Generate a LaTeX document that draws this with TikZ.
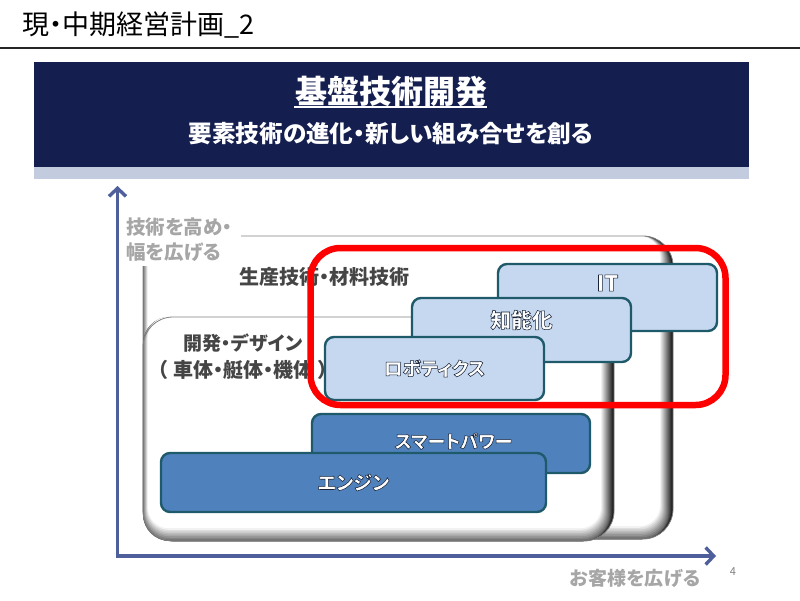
\documentclass[tikz,border=0pt]{standalone}
\usepackage{fontspec}
\usepackage{tikz}
\usetikzlibrary{arrows.meta, positioning, calc}
\setmainfont{Noto Sans CJK JP}[RawFeature=+palt]
\newfontfamily\heavyfont{Noto Sans CJK JP Black}[RawFeature=+palt]
\definecolor{navy}{HTML}{141F50}
\definecolor{strip}{HTML}{C3CBDF}
\definecolor{axisblue}{HTML}{4F5F9B}
\definecolor{lightfill}{HTML}{C6D8F0}
\definecolor{darkfill}{HTML}{4F81BD}
\definecolor{boxline}{HTML}{1F5A6B}
\definecolor{labelgray}{HTML}{A6A6A6}
\definecolor{headgray}{HTML}{454545}

% white letters with a dark rim
\newcommand{\rimtext}[1]{\special{pdf:code 2 Tr 0.55 w 0.1 0.14 0.22 RG}#1\special{pdf:code 0 Tr}}
% raised panel: x1, y1, x2, y2
\newcommand{\bevelpanel}[4]{
        \foreach \i in {0,...,14}{
                \pgfmathsetmacro{\shade}{min(100,\i*7.2+8)}
                \pgfmathsetmacro{\sunk}{max(0,\i-5)}
                \fill[white!\shade!black, rounded corners=30pt-\i*0.7pt]
                        (#1+\sunk*0.6,#2) rectangle (#3-\i*1.0,#4-\sunk*1.6);
        }
        \draw[gray, line width=0.8pt, rounded corners=30pt] (#1,#2) rectangle (#3,#4);
}

\begin{document}
\begin{tikzpicture}[x=1pt,y=-1pt,
                light box/.style={rectangle,draw=boxline,fill=lightfill,line width=2.4pt,rounded corners=9pt,inner sep=0pt,text=white},
                dark box/.style={light box,fill=darkfill},
                axis line/.style={-{Straight Barb[length=8pt,width=17pt]},draw=axisblue,line width=3.4pt},
                axis label/.style={font=\fontsize{19}{25}\selectfont\bfseries,text=labelgray,inner sep=0pt},
                layer label/.style={font=\fontsize{20}{27}\selectfont\bfseries,text=headgray,inner sep=0pt,align=center}]
        \useasboundingbox (0,0) rectangle (800,600);

        \node[anchor=west,inner sep=0pt,font=\fontsize{27}{30}\selectfont] (title) at (22,25) {現・中期経営計画\_2};
        \coordinate (ruleleft) at (0,48);
        \coordinate (ruleright) at (800,48);
        \draw[line width=1.4pt,black!85] (ruleleft) -- (ruleright);

        \fill[strip] (34,167) rectangle (749,179);
        \fill[navy] (34,62) rectangle (749,167);
        \node[inner sep=0pt,text=white,font=\fontsize{32}{36}\selectfont\bfseries] (heading) at (391,91) {基盤技術開発};
        \coordinate (underleft) at (294,107);
        \coordinate (underright) at (487,107);
        \draw[white,line width=2pt] (underleft) -- (underright);
        \node[inner sep=0pt,text=white,font=\fontsize{23.6}{26}\selectfont\bfseries] (subheading) at (391,134) {要素技術の進化・新しい組み合せを創る};

        \bevelpanel{143}{236}{673}{539}
        \node[fill=white,anchor=north west,inner sep=0pt,text width=121pt,minimum height=54pt,align=left,text=labelgray,font=\fontsize{19.5}{25}\selectfont\bfseries] (upword) at (120,212) {\hspace*{6pt}技術を高め・\\\hspace*{6pt}幅を広げる};
        \node[layer label] (production) at (324.5,277) {生産技術・材料技術};
        \bevelpanel{143}{317}{614}{541}
        \node[layer label] (design) at (243,356.5) {{\fontsize{19}{27}\selectfont 開発・デザイン}\\（\hspace{5pt}車体・艇体・機体\hspace{5pt}）};

        \node[light box,font=\fontsize{22}{24}\heavyfont,minimum width=219pt,minimum height=67pt] (it) at (607.5,297.5) {\raisebox{29pt}{\rimtext{IT}}\hspace{13pt}};
        \node[light box,font=\fontsize{20.7}{24}\heavyfont,minimum width=219pt,minimum height=64pt] (smart) at (521.5,330) {\raisebox{22pt}{\rimtext{知能化}}};
        \node[light box,font=\fontsize{18.5}{24}\heavyfont,minimum width=219pt,minimum height=63pt] (robot) at (434.5,368.5) {\rimtext{ロボティクス}\hspace{7pt}};
        \node[dark box,font=\fontsize{18}{24}\heavyfont,minimum width=278pt,minimum height=59pt] (power) at (451,443.5) {\hspace*{5pt}\raisebox{6pt}{\rimtext{スマートパワー}}};
        \node[dark box,font=\fontsize{19}{24}\heavyfont,minimum width=385pt,minimum height=59pt] (engine) at (353.5,482.5) {\raisebox{-9pt}{\rimtext{エンジン}}\hspace{7pt}};

        \node[rectangle,draw=red,line width=6.5pt,rounded corners=30pt,minimum width=415pt,minimum height=157pt] (focus) at (518,326.5) {};

        \coordinate (origin) at (117.5,556);
        \coordinate (axistop) at (117.5,186);
        \coordinate (axisright) at (716,556);
        \draw[axis line] ($(origin)+(0,1.7)$) -- (axistop);
        \draw[axis line] ($(origin)+(-1.7,0)$) -- (axisright);
        \node[axis label] (outword) at (635,578) {お客様を広げる};
        \node[inner sep=0pt,text=gray,font=\fontsize{11}{13}\selectfont] (pagenum) at (733,572) {4};
\end{tikzpicture}
\end{document}
